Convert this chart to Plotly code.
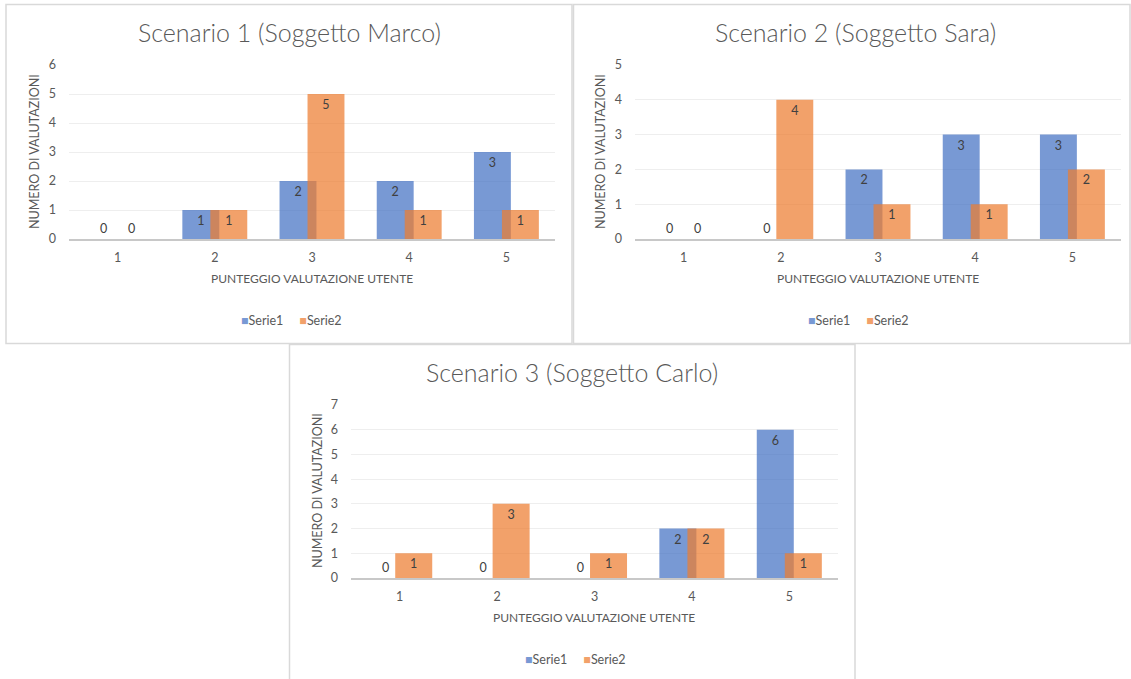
import plotly.graph_objects as go

# Rating scores (x categories) and counts per subject
categories = [1, 2, 3, 4, 5]
tick_labels = ["1", "2", "3", "4", "5"]

marco_serie1 = [0, 1, 2, 2, 3]
marco_serie2 = [0, 1, 5, 1, 1]
sara_serie1 = [0, 0, 2, 3, 3]
sara_serie2 = [0, 4, 1, 1, 2]
carlo_serie1 = [0, 0, 0, 2, 6]
carlo_serie2 = [1, 3, 1, 2, 1]

titles = [
    "Scenario 1 (Soggetto Marco)",
    "Scenario 2 (Soggetto Sara)",
    "Scenario 3 (Soggetto Carlo)",
]
y_max = [6, 5, 7]
series_names = ["Serie1", "Serie2"]
x_title = "PUNTEGGIO VALUTAZIONE UTENTE"
y_title = "NUMERO DI VALUTAZIONI"

W, H = 1131, 679
FONT = "Lato, Carlito, Calibri, sans-serif"
TEXT = "#595959"
LABEL = "#404040"
BLUE = "rgba(68,114,196,0.72)"
ORANGE = "rgba(237,125,49,0.72)"
SERIES_COLORS = [BLUE, ORANGE]
BAR_W = 0.38
SHIFT = 0.144


def fx(p):
    return p / W


def fy(p):
    return 1 - p / H


# pixel layout of each panel: plot box, frame box, title / legend anchors
panels = [
    dict(s1=marco_serie1, s2=marco_serie2, plot=(69, 555, 65, 239),
         frame=(6, 572, 4.5, 343.5), title=(289, 32), legend=(291, 320),
         ytitle=(34, 152), xtitle=(312, 278)),
    dict(s1=sara_serie1, s2=sara_serie2, plot=(635, 1121, 65, 239),
         frame=(573.5, 1130, 4.5, 343.5), title=(855, 32), legend=(858, 320),
         ytitle=(600, 152), xtitle=(878, 278)),
    dict(s1=carlo_serie1, s2=carlo_serie2, plot=(351, 838, 405, 578),
         frame=(289.5, 855, 344.5, 680), title=(572, 372), legend=(575, 659),
         ytitle=(317, 491), xtitle=(594, 617)),
]

fig = go.Figure()
annotations = []
shapes = []

for i, p in enumerate(panels):
    n = "" if i == 0 else str(i + 1)
    xa, ya = "x" + n, "y" + n
    for vals, name, color, off in ((p["s1"], series_names[0], BLUE, -SHIFT),
                                   (p["s2"], series_names[1], ORANGE, SHIFT)):
        fig.add_trace(go.Bar(
            x=categories, y=vals, name=name,
            width=BAR_W, offset=off - BAR_W / 2,
            marker=dict(color=color, line=dict(width=0)),
            text=[str(v) for v in vals],
            textposition=["outside" if v == 0 else "inside" for v in vals],
            insidetextanchor="end", textangle=0,
            textfont=dict(family=FONT, size=12.5, color=LABEL),
            constraintext="none", cliponaxis=False,
            xaxis=xa, yaxis=ya, showlegend=False,
            hoverinfo="skip",
        ))

    x0, x1, y0, y1 = p["plot"]
    fig.layout["xaxis" + n] = dict(
        domain=[fx(x0), fx(x1)], anchor=ya, range=[0.5, 5.5],
        tickvals=categories, ticktext=tick_labels, showgrid=False,
        showline=True, linecolor="#C8C8C8", linewidth=2, zeroline=False,
        ticks="", ticklabelstandoff=6,
        tickfont=dict(family=FONT, size=12.5, color=TEXT), fixedrange=True,
    )
    fig.layout["yaxis" + n] = dict(
        domain=[fy(y1), fy(y0)], anchor=xa, range=[0, y_max[i]], dtick=1,
        showgrid=True, gridcolor="#EEEEEE", gridwidth=1, zeroline=False,
        showline=False, ticks="", ticklabelstandoff=12,
        tickfont=dict(family=FONT, size=12.5, color=TEXT), fixedrange=True,
    )

    # series key under each chart
    lx, ly = p["legend"]
    key = "&nbsp;&nbsp;&nbsp;&nbsp;&nbsp;".join(
        f"<span style='color:{c}'>■</span>{s}"
        for s, c in zip(series_names, SERIES_COLORS)
    )
    annotations.append(dict(
        text=key, x=fx(lx), y=fy(ly), xref="paper", yref="paper",
        xanchor="center", yanchor="middle", showarrow=False,
        font=dict(family=FONT, size=12.5, color=TEXT),
    ))

    tx, ty = p["title"]
    annotations.append(dict(
        text=titles[i], x=fx(tx), y=fy(ty), xref="paper", yref="paper",
        xanchor="center", yanchor="middle", showarrow=False,
        font=dict(family=FONT, size=25, color=TEXT, weight=300),
    ))
    ax, ay = p["xtitle"]
    annotations.append(dict(
        text=x_title, x=fx(ax), y=fy(ay), xref="paper", yref="paper",
        xanchor="center", yanchor="middle", showarrow=False,
        font=dict(family=FONT, size=12, color=TEXT),
    ))
    vx, vy = p["ytitle"]
    annotations.append(dict(
        text=y_title, x=fx(vx), y=fy(vy), xref="paper", yref="paper",
        xanchor="center", yanchor="middle", showarrow=False, textangle=-90,
        font=dict(family=FONT, size=12.5, color=TEXT),
    ))

    bx0, bx1, by0, by1 = p["frame"]
    shapes.append(dict(
        type="rect", xref="paper", yref="paper",
        x0=fx(bx0), x1=fx(bx1), y0=fy(by1), y1=fy(by0),
        line=dict(color="#D9D9D9", width=1.5), fillcolor="rgba(0,0,0,0)",
        layer="below",
    ))

fig.update_layout(
    width=W, height=H,
    margin=dict(l=0, r=0, t=0, b=0, pad=0, autoexpand=False),
    paper_bgcolor="white", plot_bgcolor="white", showlegend=False,
    barmode="overlay", annotations=annotations, shapes=shapes,
    font=dict(family=FONT, color=TEXT),
)

fig.write_html("out.html")
